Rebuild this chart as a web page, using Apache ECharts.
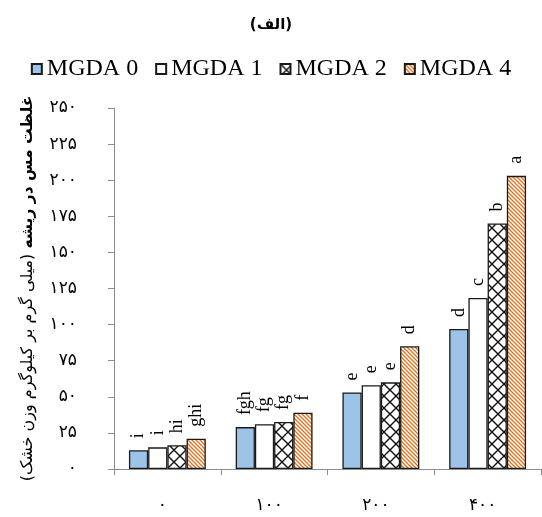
<!DOCTYPE html>
<html>
<head>
<meta charset="utf-8">
<script src="https://cdn.jsdelivr.net/npm/echarts@6/dist/echarts.min.js"></script>
<style>
  html, body { margin: 0; padding: 0; background: #fff; }
  #chart { width: 542px; height: 517px; }
</style>
</head>
<body>
<div id="chart"></div>
<script>
// Copper concentration in roots by Cu level and MGDA dose
const categories = ['۰', '۱۰۰', '۲۰۰', '۴۰۰'];
const seriesNames = ['MGDA 0', 'MGDA 1', 'MGDA 2', 'MGDA 4'];

const mgda0 = [13, 29, 53, 97];
const mgda1 = [15, 31, 58, 118.5];
const mgda2 = [16.5, 32.5, 60, 170];
const mgda4 = [21, 39, 85, 203];

// Mean-separation letters above each bar
const letters0 = ['i', 'fgh', 'e', 'd'];
const letters1 = ['i', 'fg', 'e', 'c'];
const letters2 = ['hi', 'fg', 'e', 'b'];
const letters4 = ['ghi', 'f', 'd', 'a'];

// Value-axis tick labels in Persian digits (0..250 step 25)
const yTickLabels = ['۰', '۲۵', '۵۰', '۷۵', '۱۰۰', '۱۲۵', '۱۵۰', '۱۷۵', '۲۰۰', '۲۲۵', '۲۵۰'];

// Fill patterns
function crossPattern() {
  const s = 12;
  const c = document.createElement('canvas');
  c.width = s; c.height = s;
  const g = c.getContext('2d');
  g.fillStyle = '#fff';
  g.fillRect(0, 0, s, s);
  g.strokeStyle = '#111';
  g.lineWidth = 1.4;
  g.beginPath();
  g.moveTo(-1, -1); g.lineTo(s + 1, s + 1);
  g.moveTo(s + 1, -1); g.lineTo(-1, s + 1);
  g.stroke();
  return c;
}
function stripePattern() {
  const s = 4;
  const c = document.createElement('canvas');
  c.width = s; c.height = s;
  const g = c.getContext('2d');
  g.fillStyle = '#fff';
  g.fillRect(0, 0, s, s);
  g.strokeStyle = '#E2711D';
  g.lineWidth = 1.3;
  g.beginPath();
  g.moveTo(-1, -1); g.lineTo(s + 1, s + 1);
  g.moveTo(-1, s - 1); g.lineTo(1, s + 1);
  g.moveTo(s - 1, -1); g.lineTo(s + 1, 1);
  g.stroke();
  return c;
}

const fills = [
  '#9DC3E6',
  '#FFFFFF',
  { image: crossPattern(), repeat: 'repeat' },
  { image: stripePattern(), repeat: 'repeat' }
];
const values = [mgda0, mgda1, mgda2, mgda4];
const letterSets = [letters0, letters1, letters2, letters4];

const series = seriesNames.map((name, i) => ({
  name: name,
  type: 'bar',
  data: values[i],
  barGap: '0%',
  barCategoryGap: '28%',
  itemStyle: { color: fills[i], borderColor: '#1a1a1a', borderWidth: 1.3 },
  label: {
    show: true,
    position: 'top',
    distance: 12,
    rotate: 90,
    align: 'left',
    verticalAlign: 'middle',
    fontFamily: 'Liberation Serif',
    fontSize: 18,
    color: '#000',
    formatter: p => letterSets[i][p.dataIndex]
  },
  emphasis: { disabled: true }
}));

const chart = echarts.init(document.getElementById('chart'), null, { renderer: 'canvas' });
chart.setOption({
  animation: false,
  title: {
    text: '(الف)',
    left: 'center',
    top: 13,
    textStyle: { fontFamily: 'DejaVu Sans', fontWeight: 'bold', fontSize: 15, color: '#000' }
  },
  legend: {
    data: seriesNames,
    left: 'center',
    top: 52,
    itemWidth: 10,
    itemHeight: 10,
    itemGap: 17,
    icon: 'rect',
    textStyle: { fontFamily: 'Liberation Serif', fontSize: 24, color: '#000' }
  },
  grid: { left: 114, right: 1, top: 108, bottom: 48, containLabel: false, outerBoundsMode: 'none' },
  xAxis: {
    type: 'category',
    data: categories,
    axisLine: { lineStyle: { color: '#8c8c8c', width: 1 } },
    axisTick: { show: true, length: 6, lineStyle: { color: '#8c8c8c' } },
    axisLabel: { margin: 28, padding: [0, 10, 0, 0], fontFamily: 'DejaVu Sans', fontSize: 17, color: '#000' }
  },
  yAxis: {
    type: 'value',
    min: 0,
    max: 250,
    interval: 25,
    splitLine: { show: false },
    axisLine: { show: true, lineStyle: { color: '#8c8c8c', width: 1 } },
    axisTick: { show: true, length: 6, lineStyle: { color: '#8c8c8c' } },
    axisLabel: {
      margin: 37,
      fontFamily: 'DejaVu Sans',
      fontSize: 17,
      color: '#000',
      formatter: v => yTickLabels[Math.round(v / 25)]
    },
    name: '{n|(میلی گرم بر کیلوگرم وزن خشک) }{b|غلظت مس در ریشه}',
    nameLocation: 'middle',
    nameGap: 78,
    nameRotate: 90,
    nameMoveOverlap: false,
    nameTextStyle: {
      color: '#000',
      rich: {
        n: { fontFamily: 'DejaVu Sans', fontSize: 16, color: '#000' },
        b: { fontFamily: 'DejaVu Sans', fontSize: 15.5, fontWeight: 'bold', color: '#000' }
      }
    }
  },
  series: series
});
</script>
</body>
</html>
